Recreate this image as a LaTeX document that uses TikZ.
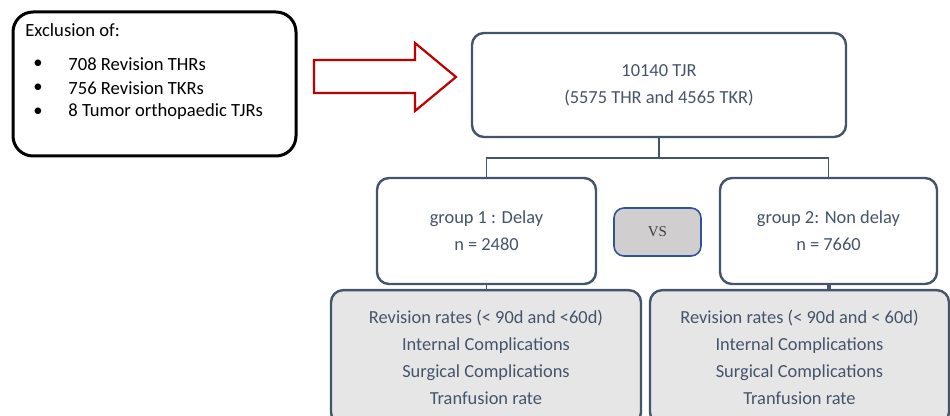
\documentclass[tikz,border=0pt]{standalone}
\usepackage{fontspec}
\setmainfont{Carlito}
\newfontfamily\vsfont{Liberation Serif}
\definecolor{slate}{HTML}{44546A}
\definecolor{arrowred}{HTML}{C00000}
\definecolor{vsgray}{HTML}{D0CECE}
\definecolor{vsblue}{HTML}{2F5597}
\definecolor{outgray}{HTML}{E7E6E6}

\tikzset{
	mainbox/.style={draw=slate, line width=1.2pt, rounded corners=6pt, fill=white,
		text=slate, align=center, font=\fontsize{9.2}{13.4}\selectfont},
	outbox/.style={mainbox, fill=outgray},
	link/.style={draw=slate, line width=0.8pt},
}

\begin{document}
\begin{tikzpicture}[x=0.5pt, y=-0.5pt]
		\useasboundingbox (0,0) rectangle (950,416);
		\clip (0,0) rectangle (950,416);

		% exclusion box
		\node[draw, line width=1.5pt, rounded corners=10pt, minimum width=141.5pt, minimum height=72pt] (excl) at (154.5,84) {};
		\node[anchor=west, inner sep=0pt, font=\fontsize{9.3}{10}\selectfont] (exctitle) at (25,30) {Exclusion of:};
		\foreach \y/\txt/\nm in {64/708 Revision THRs/ex1, 88/756 Revision TKRs/ex2, 112/8 Tumor orthopaedic TJRs/ex3} {
			\node[inner sep=0pt, font=\fontsize{9.3}{10}\selectfont] (\nm b) at (38,\y) {\textbullet};
			\node[anchor=west, inner sep=0pt, font=\fontsize{9.3}{10}\selectfont] (\nm) at (68,\y) {\txt};
		}

		% red block arrow
		\draw[arrowred, line width=1.1pt, line join=miter] (314,60) -- (415,60) -- (415,43) -- (456,77)
			-- (415,111) -- (415,93) -- (314,93) -- cycle;

		% top box
		\node[mainbox, minimum width=187pt, minimum height=52pt] (total) at (659,85)
			{10140 TJR\\(5575 THR and 4565 TKR)};

		% groups
		\node[mainbox, minimum width=109.5pt, minimum height=53pt] (grp1) at (486.5,231)
			{group 1 : Delay\\n = 2480};
		\node[mainbox, minimum width=108.5pt, minimum height=53pt] (grp2) at (828.5,231)
			{group 2: Non delay\\n = 7660};
		\node[draw=vsblue, line width=0.8pt, fill=vsgray, rounded corners=5pt, minimum width=43.5pt,
			minimum height=24pt, font=\vsfont\fontsize{7.5}{8}\selectfont, text=black!75] (vs) at (657.5,232) {VS};

		\draw[link] (total.south) -- ++(0,20) coordinate (split) -| (grp1.north);
		\draw[link] (split) -| (grp2.north);

		% outcomes
		\node[outbox, minimum width=155pt, minimum height=67pt, anchor=north] (out1) at (486,289)
			{Revision rates (< 90d and <60d)\\Internal Complications\\Surgical Complications\\Tranfusion rate};
		\node[outbox, minimum width=149.5pt, minimum height=67pt, anchor=north] (out2) at (799.5,289)
			{Revision rates (< 90d and < 60d)\\Internal Complications\\Surgical Complications\\Tranfusion rate};

		\draw[link] (grp1.south) -- (grp1.south |- out1.north);
		\draw[link, line width=2pt] (grp2.south) -- (grp2.south |- out2.north);
	\end{tikzpicture}
\end{document}
